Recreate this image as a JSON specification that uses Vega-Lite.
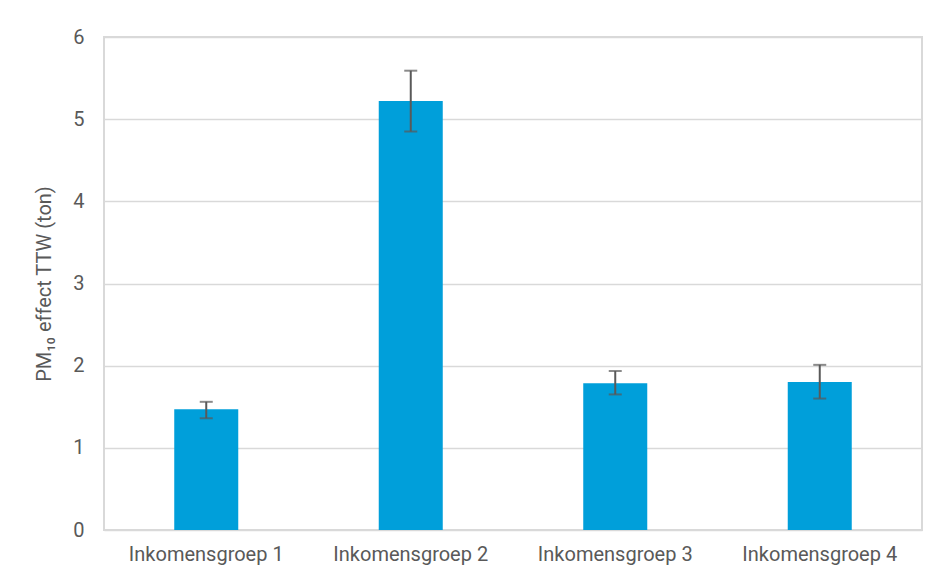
{
  "$schema": "https://vega.github.io/schema/vega-lite/v6.json",
  "width": 818,
  "height": 493,
  "autosize": {"type": "none"},
  "padding": {"left": 104, "top": 37, "right": 18, "bottom": 51},
  "background": "white",
  "data": {
    "values": [
      {"groep": "Inkomensgroep 1", "waarde": 1.47, "laag": 1.36, "hoog": 1.56},
      {"groep": "Inkomensgroep 2", "waarde": 5.22, "laag": 4.85, "hoog": 5.59},
      {"groep": "Inkomensgroep 3", "waarde": 1.785, "laag": 1.65, "hoog": 1.935},
      {"groep": "Inkomensgroep 4", "waarde": 1.80, "laag": 1.60, "hoog": 2.01}
    ]
  },
  "encoding": {
    "x": {
      "field": "groep",
      "type": "nominal",
      "sort": null,
      "scale": {"paddingInner": 0.687, "paddingOuter": 0.3435},
      "axis": {
        "title": null,
        "labelAngle": 0,
        "ticks": false,
        "domain": false,
        "labelPadding": 14,
        "labelFont": "Roboto",
        "labelFontSize": 20,
        "labelColor": "#595959"
      }
    }
  },
  "layer": [
    {
      "mark": {"type": "bar", "color": "#009FDA"},
      "encoding": {
        "y": {
          "field": "waarde",
          "type": "quantitative",
          "scale": {"domain": [0, 6], "nice": false},
          "axis": {
            "title": "PM₁₀ effect TTW (ton)",
            "values": [0, 1, 2, 3, 4, 5, 6],
            "format": "d",
            "ticks": false,
            "domain": false,
            "grid": true,
            "gridColor": "#d9d9d9",
            "gridWidth": 1.5,
            "labelPadding": 20,
            "labelFont": "Roboto",
            "labelFontSize": 20,
            "labelColor": "#595959",
            "titleFont": "Roboto",
            "titleFontSize": 20,
            "titleFontWeight": "normal",
            "titleColor": "#595959",
            "titlePadding": 18
          }
        }
      }
    },
    {
      "mark": {"type": "rule", "color": "#595959", "strokeWidth": 2},
      "encoding": {
        "y": {"field": "laag", "type": "quantitative"},
        "y2": {"field": "hoog"}
      }
    },
    {
      "mark": {"type": "tick", "color": "#595959", "orient": "horizontal", "size": 13, "thickness": 2},
      "encoding": {
        "y": {"field": "hoog", "type": "quantitative"}
      }
    },
    {
      "mark": {"type": "tick", "color": "#595959", "orient": "horizontal", "size": 13, "thickness": 2},
      "encoding": {
        "y": {"field": "laag", "type": "quantitative"}
      }
    }
  ],
  "config": {
    "view": {"stroke": "#d9d9d9", "strokeWidth": 2}
  }
}
